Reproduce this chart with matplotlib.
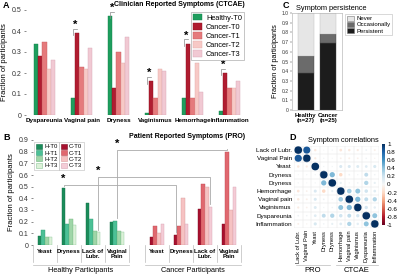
import numpy as np
import matplotlib
matplotlib.use("Agg")
import matplotlib.pyplot as plt
from matplotlib.patches import Patch
from matplotlib import colors as mcolors, cm
import matplotlib.transforms as mtrans

plt.rcParams['font.family'] = ['Liberation Sans', 'DejaVu Sans']

# ---------------- data ----------------
a_categories = ["Dyspareunia", "Vaginal pain", "Dryness", "Vaginismus", "Hemorrhage", "Inflammation"]
a_series = ["Healthy-T0", "Cancer-T0", "Cancer-T1", "Cancer-T2", "Cancer-T3"]
a_healthy_t0 = [0.34, 0.08, 0.47, 0.01, 0.08, 0.02]
a_cancer_t0 = [0.28, 0.39, 0.13, 0.16, 0.34, 0.20]
a_cancer_t1 = [0.35, 0.23, 0.30, 0.08, 0.08, 0.13]
a_cancer_t2 = [0.22, 0.22, 0.25, 0.22, 0.25, 0.13]
a_cancer_t3 = [0.26, 0.32, 0.37, 0.21, 0.11, 0.16]
a_signif = [1, 2, 3, 4, 5]

b_categories = ["Yeast", "Dryness", "Lack of\nLubr.", "Vaginal\nPain"]
b_healthy_series = ["H-T0", "H-T1", "H-T2", "H-T3"]
b_cancer_series = ["C-T0", "C-T1", "C-T2", "C-T3"]
b_h_t0 = [0.08, 0.49, 0.36, 0.20]
b_h_t1 = [0.13, 0.18, 0.22, 0.21]
b_h_t2 = [0.07, 0.22, 0.12, 0.12]
b_h_t3 = [0.07, 0.17, 0.11, 0.11]
b_c_t0 = [0.07, 0.09, 0.31, 0.18]
b_c_t1 = [0.16, 0.16, 0.52, 0.80]
b_c_t2 = [0.10, 0.40, 0.50, 0.30]
b_c_t3 = [0.18, 0.18, 0.33, 0.50]
b_groups = ["Healthy Participants", "Cancer Participants"]

c_groups = ["Healthy\n(n=27)", "Cancer\n(n=25)"]
c_levels = ["Never", "Occasionally", "Persistent"]
c_persistent = [0.38, 0.69]
c_occasionally = [0.18, 0.09]
c_never = [0.44, 0.22]

d_labels = ["Lack of Lubr.", "Vaginal Pain", "Yeast", "Dryness", "Dryness",
            "Hemorrhage", "Vaginal pain", "Vaginismus", "Dyspareunia", "Inflammation"]
d_corr = [
    [1.00, 0.85, -0.10, 0.02, 0.03, -0.12, -0.10, -0.08, 0.05, -0.06],
    [0.85, 1.00, -0.08, 0.03, 0.02, -0.05, -0.06, -0.05, 0.04, -0.03],
    [-0.10, -0.08, 1.00, 0.03, 0.03, 0.15, 0.15, 0.14, 0.12, 0.16],
    [0.02, 0.03, 0.03, 1.00, 0.45, -0.20, 0.05, 0.03, 0.25, 0.04],
    [0.03, 0.02, 0.03, 0.45, 1.00, 0.08, 0.03, 0.04, 0.30, 0.08],
    [-0.12, -0.05, 0.15, -0.20, 0.08, 1.00, 0.35, 0.40, 0.20, 0.12],
    [-0.10, -0.06, 0.15, 0.05, 0.03, 0.35, 1.00, 0.45, 0.25, 0.30],
    [-0.08, -0.05, 0.14, 0.03, 0.04, 0.40, 0.45, 1.00, 0.18, 0.10],
    [0.05, 0.04, 0.12, 0.25, 0.30, 0.20, 0.25, 0.18, 1.00, 0.40],
    [-0.06, -0.03, 0.16, 0.04, 0.08, 0.12, 0.30, 0.10, 0.40, 1.00],
]
d_groups = ["PRO", "CTCAE"]

# ---------------- figure ----------------
W, H = 400, 274
fig = plt.figure(figsize=(4, 2.74), dpi=100)

def ax_px(x0, y0, x1, y1):
    return fig.add_axes([x0 / W, 1 - y1 / H, (x1 - x0) / W, (y1 - y0) / H])

def ftext(x, y, s, **kw):
    fig.text(x / W, 1 - y / H, s, **kw)

GRAY = '#888888'

# ---------------- Panel A ----------------
axA = ax_px(26, 10, 248, 115)
a_vals = [a_healthy_t0, a_cancer_t0, a_cancer_t1, a_cancer_t2, a_cancer_t3]
a_cols = ['#1e9e5e', '#b01c30', '#e57a7c', '#f7c9c6', '#f1c9d3']
a_edges = ['#14804a', '#8a1020', '#c85a5e', '#e0a8a6', '#d8a6b4']
xa = np.arange(len(a_categories))
wa = 0.118
for i, (vals, c, e) in enumerate(zip(a_vals, a_cols, a_edges)):
    axA.bar(xa + (i - 2) * wa, vals, wa, color=c, edgecolor=e, lw=0.3, label=a_series[i])
for k in a_signif:
    xh = xa[k] - 2 * wa
    xc = xa[k] - wa
    lvl = max(a_healthy_t0[k], a_cancer_t0[k]) + 0.02
    axA.plot([xh, xh, xc], [lvl - 0.03, lvl, lvl], color=GRAY, lw=0.5)
    axA.text((xh + xc) / 2, lvl - 0.005, '*', ha='center', va='bottom', fontsize=8, fontweight='bold')
axA.set_xlim(-0.5, 5.5)
axA.set_ylim(0, 0.5)
for s in axA.spines.values():
    s.set_visible(False)
axA.set_yticks([0, 0.1, 0.2, 0.3, 0.4, 0.5])
axA.set_yticklabels(['0', '0.1', '0.2', '0.3', '0.4', '0.5'])
axA.tick_params(axis='y', labelsize=5, length=1.5, width=0.4, pad=1.5, colors='#333333')
axA.set_xticks(xa)
axA.set_xticklabels(a_categories, fontsize=4.5, fontweight='bold')
axA.tick_params(axis='x', length=0, pad=2)
axA.set_ylabel('Fraction of participants', fontsize=5.5, labelpad=3)
legA = axA.legend(loc='upper right', bbox_to_anchor=(1.0, 1.02), fontsize=5.3, frameon=True,
                  fancybox=False, edgecolor='#999999', handlelength=1.3, handleheight=1.0,
                  labelspacing=0.18, borderpad=0.3, handletextpad=0.5)
legA.get_frame().set_linewidth(0.5)
ftext(245, 5, 'Clinician Reported Symptoms (CTCAE)', ha='right', va='center', fontsize=5, fontweight='bold')
ftext(3, 5, 'A', ha='left', va='center', fontsize=6.5, fontweight='bold')

# ---------------- Panel B ----------------
axB = ax_px(33, 140, 241, 245)
xh_pos = np.arange(4)
xc_pos = np.arange(4) + 4.67
bw = 0.15
h_vals = [b_h_t0, b_h_t1, b_h_t2, b_h_t3]
c_vals = [b_c_t0, b_c_t1, b_c_t2, b_c_t3]
h_cols = ['#1b8c5a', '#4cc096', '#9fd6a8', '#dcf1d8']
h_edge = ['#0f6e44', '#2e9c72', '#6fb47c', '#8cc89a']
c_cols = ['#a8102e', '#e0686f', '#f6c2c2', '#f4ccd6']
c_edge = ['#7c0a20', '#c04a52', '#d89a9a', '#d8a4b4']
for i in range(4):
    axB.bar(xh_pos + (i - 1.5) * bw, h_vals[i], bw, color=h_cols[i], edgecolor=h_edge[i], lw=0.3)
    axB.bar(xc_pos + (i - 1.5) * bw, c_vals[i], bw, color=c_cols[i], edgecolor=c_edge[i], lw=0.3)

# significance brackets: (category, healthy bar index, cancer bar index, level)
b_brackets = [(1, 0, 0, 0.515), (2, 3, 3, 0.585), (3, 1.5, 1, 0.815)]
for cat, hi, ci, lvl in b_brackets:
    xl = xh_pos[cat] + (hi - 1.5) * bw
    xr = xc_pos[cat] + (ci - 1.5) * bw
    if hi == int(hi):
        yl = h_vals[int(hi)][cat] + 0.02
    else:
        yl = max(h_vals[1][cat], h_vals[2][cat]) + 0.02
    yr = c_vals[ci][cat] + 0.02
    axB.plot([xl, xl, xr, xr], [yl, lvl, lvl, yr], color='#aaaaaa', lw=0.6)
    axB.text(xl, lvl + 0.005, '*', ha='center', va='bottom', fontsize=8, fontweight='bold')

axB.set_xlim(-0.5, 8.17)
axB.set_ylim(0, 0.9)
for s in axB.spines.values():
    s.set_visible(False)
axB.axhline(0, color='#999999', lw=0.5)
axB.set_yticks(np.arange(0, 0.91, 0.1))
axB.set_yticklabels(['0', '0.1', '0.2', '0.3', '0.4', '0.5', '0.6', '0.7', '0.8', '0.9'])
axB.tick_params(axis='y', labelsize=5, length=1.5, width=0.4, pad=1.5, colors='#333333')
axB.set_xticks([])
axB.set_ylabel('Fraction of participants', fontsize=5.5, labelpad=3)
trB = mtrans.blended_transform_factory(axB.transData, axB.transAxes)
seps = [-0.5, 0.5, 1.5, 2.5, 3.5, 4.17, 5.17, 6.17, 7.17, 8.17]
for sx in seps:
    axB.plot([sx, sx], [0, -0.16], transform=trB, clip_on=False, color='#bbbbbb', lw=0.5)
for pos in (xh_pos, xc_pos):
    for x, lab in zip(pos, b_categories):
        axB.text(x, -0.035, lab, transform=trB, ha='center', va='top', fontsize=4.3,
                 fontweight='bold', linespacing=1.0)
for (x0, x1), g in zip([(-0.5, 3.5), (4.17, 8.17)], b_groups):
    axB.plot([x0, x1], [-0.19, -0.19], transform=trB, clip_on=False, color='#bbbbbb', lw=0.5)
    axB.text((x0 + x1) / 2, -0.21, g, transform=trB, ha='center', va='top', fontsize=5.3)
h_handles = [Patch(facecolor=h_cols[i], edgecolor=h_edge[i], lw=0.4) for i in range(4)]
c_handles = [Patch(facecolor=c_cols[i], edgecolor=c_edge[i], lw=0.4) for i in range(4)]
for handles, labels, xpx in [(h_handles, b_healthy_series, 34), (c_handles, b_cancer_series, 59)]:
    lg = fig.legend(handles, labels, loc='upper left', bbox_to_anchor=(xpx / W, 1 - 142 / H),
                    fontsize=4.3, frameon=True, fancybox=False, edgecolor='#aaaaaa',
                    handlelength=1.0, handleheight=0.9, labelspacing=0.12, borderpad=0.3,
                    handletextpad=0.4, borderaxespad=0)
    lg.get_frame().set_linewidth(0.4)
ftext(245, 137, 'Patient Reported Symptoms (PRO)', ha='right', va='center', fontsize=5, fontweight='bold')
ftext(3, 138, 'B', ha='left', va='center', fontsize=6.5, fontweight='bold')

# ---------------- Panel C ----------------
axC = ax_px(292, 13, 342, 110)
xcp = np.arange(len(c_groups))
c_cols3 = ['#e6e6e6', '#6b6b6b', '#1c1c1c']
bw_c = 0.7
axC.bar(xcp, c_persistent, bw_c, color=c_cols3[2], edgecolor='#444444', lw=0.3)
axC.bar(xcp, c_occasionally, bw_c, bottom=c_persistent, color=c_cols3[1], edgecolor='#444444', lw=0.3)
bot2 = [a + b for a, b in zip(c_persistent, c_occasionally)]
axC.bar(xcp, c_never, bw_c, bottom=bot2, color=c_cols3[0], edgecolor='#bbbbbb', lw=0.3)
axC.set_xlim(-0.6, 1.6)
axC.set_ylim(0, 1.0)
for s in axC.spines.values():
    s.set_color('#bbbbbb')
    s.set_linewidth(0.5)
axC.set_yticks(np.arange(0, 1.01, 0.1))
axC.set_yticklabels(['0', '0.1', '0.2', '0.3', '0.4', '0.5', '0.6', '0.7', '0.8', '0.9', '1.0'])
axC.tick_params(axis='y', labelsize=3.6, length=1.2, width=0.3, pad=1, colors='#333333')
axC.set_xticks(xcp)
axC.set_xticklabels(c_groups, fontsize=4.3, fontweight='bold', linespacing=1.1)
axC.tick_params(axis='x', length=0, pad=2)
axC.set_ylabel('Fraction of participants', fontsize=5.3, labelpad=2)
c_handles = [Patch(facecolor=c_cols3[i], edgecolor='#777777', lw=0.4) for i in range(3)]
lgC = fig.legend(c_handles, c_levels, loc='upper left', bbox_to_anchor=(345 / W, 1 - 14 / H),
                 fontsize=4.3, frameon=True, fancybox=False, edgecolor='#aaaaaa',
                 handlelength=1.2, handleheight=0.9, labelspacing=0.1, borderpad=0.3,
                 handletextpad=0.4, borderaxespad=0)
lgC.get_frame().set_linewidth(0.4)
ftext(296, 9, 'Symptom persistence', ha='left', va='center', fontsize=5.3)
ftext(283, 5, 'C', ha='left', va='center', fontsize=6.5, fontweight='bold')

# ---------------- Panel D ----------------
axD = ax_px(294, 146, 379, 228)
corr = np.array(d_corr)
n = corr.shape[0]
for k in range(n + 1):
    axD.plot([-0.5, n - 0.5], [k - 0.5, k - 0.5], color='#e0e0e0', lw=0.3)
    axD.plot([k - 0.5, k - 0.5], [-0.5, n - 0.5], color='#e0e0e0', lw=0.3)
ii, jj = np.meshgrid(np.arange(n), np.arange(n), indexing='ij')
cmap = plt.get_cmap('RdBu')
norm = mcolors.Normalize(-1, 1)
axD.scatter(jj.ravel(), ii.ravel(), s=np.abs(corr.ravel()) * 32, c=corr.ravel(), cmap=cmap,
            norm=norm, linewidths=0)
axD.set_xlim(-0.5, n - 0.5)
axD.set_ylim(n - 0.5, -0.5)
for s in axD.spines.values():
    s.set_visible(False)
axD.set_xticks(range(n))
axD.set_xticklabels(d_labels, rotation=90, fontsize=4.1)
axD.set_yticks(range(n))
axD.set_yticklabels(d_labels, fontsize=4.6)
axD.tick_params(length=0, pad=1.5)
cax = ax_px(382, 144, 385, 225)
cb = matplotlib.colorbar.ColorbarBase(cax, cmap=cmap, norm=norm)
cb.set_ticks([1, 0.8, 0.6, 0.4, 0.2, 0, -0.2, -0.4, -0.6, -0.8, -1])
cb.ax.set_yticklabels(['1', '0.8', '0.6', '0.4', '0.2', '0', '-0.2', '-0.4', '-0.6', '-0.8', '-1'])
cb.ax.tick_params(labelsize=4.5, length=0, pad=1.5)
cb.outline.set_visible(False)
ftext(343, 140, 'Symptom correlations', ha='center', va='center', fontsize=5.3)
ftext(289, 138, 'D', ha='left', va='center', fontsize=6.5, fontweight='bold')
for (x0, x1), g in zip([(296, 330), (336, 378)], d_groups):
    fig.add_artist(plt.Line2D([x0 / W, x1 / W], [1 - 265 / H, 1 - 265 / H], color='#bbbbbb', lw=0.5))
    ftext((x0 + x1) / 2, 270, g, ha='center', va='center', fontsize=5.5)

fig.savefig('out.png', dpi=100)
